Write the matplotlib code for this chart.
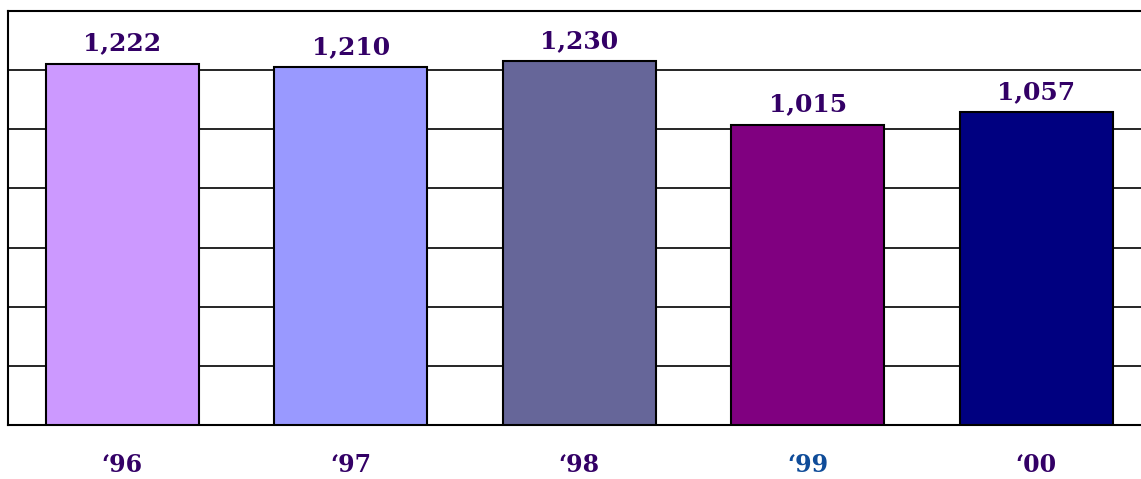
import matplotlib
matplotlib.use('Agg')
import matplotlib.pyplot as plt

years = ['\u201896', '\u201897', '\u201898', '\u201899', '\u201800']
values = [1222, 1210, 1230, 1015, 1057]
colors = ['#CC99FF', '#9999FF', '#666699', '#800080', '#000080']
label_colors = ['#330066', '#330066', '#330066', '#0F4C99', '#330066']

fig = plt.figure(figsize=(11.41, 4.79), dpi=100)
ax = fig.add_axes([8 / 1141, 1 - 425 / 479, 1142.5 / 1141, 414 / 479])

x = range(len(years))
bars = ax.bar(x, values, width=0.67, color=colors, edgecolor='black', linewidth=1.5, zorder=3)

for b, v in zip(bars, values):
    ax.annotate(f'{v:,}', (b.get_x() + b.get_width() / 2, v), xytext=(0, 6),
                textcoords='offset points', ha='center', va='bottom',
                fontsize=18, fontweight='bold', family='DejaVu Serif', color='#330066')

ax.set_xlim(-0.5, 4.5)
ax.set_ylim(0, 1400)
ax.set_yticks(range(0, 1401, 200))
ax.set_yticklabels([])
ax.tick_params(axis='y', length=0)
ax.yaxis.grid(True, color='black', linewidth=1.2, zorder=0)
ax.set_axisbelow(True)

ax.set_xticks(list(x))
ax.set_xticklabels(years, fontsize=17, fontweight='bold', family='DejaVu Serif')
for lab, c in zip(ax.get_xticklabels(), label_colors):
    lab.set_color(c)
ax.tick_params(axis='x', length=0, pad=20)

for s in ['left', 'top', 'bottom']:
    ax.spines[s].set_linewidth(1.5)
ax.spines['right'].set_visible(False)

fig.savefig('out.png', dpi=100)
